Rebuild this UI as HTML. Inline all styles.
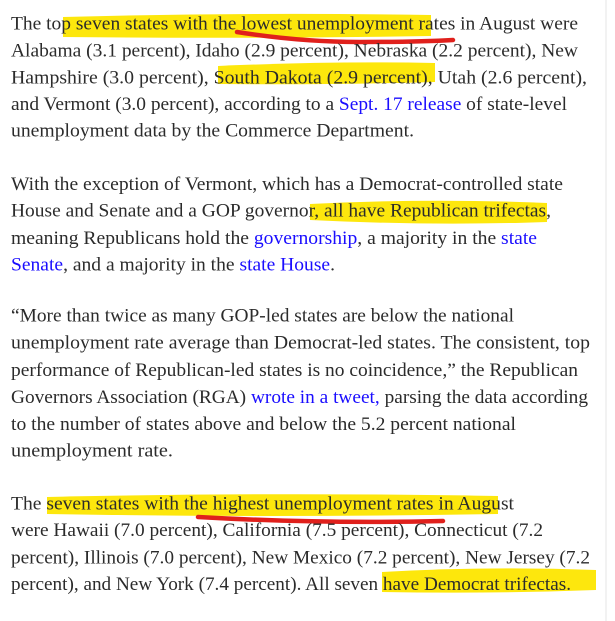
<!DOCTYPE html>
<html><head><meta charset="utf-8"><style>
html,body{margin:0;padding:0;background:#fff;}
svg{display:block;}
text{font-family:"Liberation Serif",serif;font-size:18.5px;fill:#2b2b2b;}
.l{fill:#1a0dff;}
</style></head><body>
<svg width="615" height="621" viewBox="0 0 615 621" xmlns="http://www.w3.org/2000/svg">
<line x1="606" y1="0" x2="606" y2="621" stroke="#e4e4e4" stroke-width="1"/>
<g fill="#fde600" opacity="0.95">
<path d="M63 17 Q250 12 431 15 L431 36 Q250 39 63 37 Z"/>
<path d="M218 66 Q330 61 435 63 L435 82 Q330 85 218 84 Z"/>
<path d="M310 204 Q430 198 547 203 L547 222 Q430 226 310 220 Z"/>
<path d="M47 497 Q270 492 498 496 L498 514 Q270 518 47 514 Z"/>
<path d="M382 572 Q490 566 596 570 L596 590 Q490 594 382 592 Z"/>
</g>
<path d="M237 32 Q300 42 360 42 Q420 42 453 40" stroke="#e0201c" stroke-width="4.5" fill="none" stroke-linecap="round"/>
<path d="M198 517 Q320 524 443 521" stroke="#e0201c" stroke-width="4.5" fill="none" stroke-linecap="round"/>
<text x="11" y="29.3" textLength="567" lengthAdjust="spacingAndGlyphs">The top seven states with the lowest unemployment rates in August were</text>
<text x="11" y="56.7" textLength="567" lengthAdjust="spacingAndGlyphs">Alabama (3.1 percent), Idaho (2.9 percent), Nebraska (2.2 percent), New</text>
<text x="11" y="83.3" textLength="576" lengthAdjust="spacingAndGlyphs">Hampshire (3.0 percent), South Dakota (2.9 percent), Utah (2.6 percent),</text>
<text x="11" y="110" textLength="556" lengthAdjust="spacingAndGlyphs">and Vermont (3.0 percent), according to a <tspan class="l">Sept. 17 release</tspan> of state-level</text>
<text x="11" y="136.7" textLength="403" lengthAdjust="spacingAndGlyphs">unemployment data by the Commerce Department.</text>
<text x="11" y="190" textLength="552" lengthAdjust="spacingAndGlyphs">With the exception of Vermont, which has a Democrat-controlled state</text>
<text x="11" y="216.7" textLength="540" lengthAdjust="spacingAndGlyphs">House and Senate and a GOP governor, all have Republican trifectas,</text>
<text x="11" y="244" textLength="526" lengthAdjust="spacingAndGlyphs">meaning Republicans hold the <tspan class="l">governorship</tspan>, a majority in the <tspan class="l">state</tspan></text>
<text x="11" y="270.7" textLength="324" lengthAdjust="spacingAndGlyphs"><tspan class="l">Senate</tspan>, and a majority in the <tspan class="l">state House</tspan>.</text>
<text x="11" y="321.7" textLength="503" lengthAdjust="spacingAndGlyphs">“More than twice as many GOP-led states are below the national</text>
<text x="11" y="348.3" textLength="579" lengthAdjust="spacingAndGlyphs">unemployment rate average than Democrat-led states. The consistent, top</text>
<text x="11" y="376" textLength="567" lengthAdjust="spacingAndGlyphs">performance of Republican-led states is no coincidence,” the Republican</text>
<text x="11" y="403" textLength="577" lengthAdjust="spacingAndGlyphs">Governors Association (RGA) <tspan class="l">wrote in a tweet,</tspan> parsing the data according</text>
<text x="11" y="430" textLength="505" lengthAdjust="spacingAndGlyphs">to the number of states above and below the 5.2 percent national</text>
<text x="11" y="456.7" textLength="162" lengthAdjust="spacingAndGlyphs">unemployment rate.</text>
<text x="11" y="509.3" textLength="503" lengthAdjust="spacingAndGlyphs">The seven states with the highest unemployment rates in August</text>
<text x="11" y="536" textLength="532" lengthAdjust="spacingAndGlyphs">were Hawaii (7.0 percent), California (7.5 percent), Connecticut (7.2</text>
<text x="11" y="563.3" textLength="579" lengthAdjust="spacingAndGlyphs">percent), Illinois (7.0 percent), New Mexico (7.2 percent), New Jersey (7.2</text>
<text x="11" y="590" textLength="560" lengthAdjust="spacingAndGlyphs">percent), and New York (7.4 percent). All seven have Democrat trifectas.</text>
</svg>
</body></html>
